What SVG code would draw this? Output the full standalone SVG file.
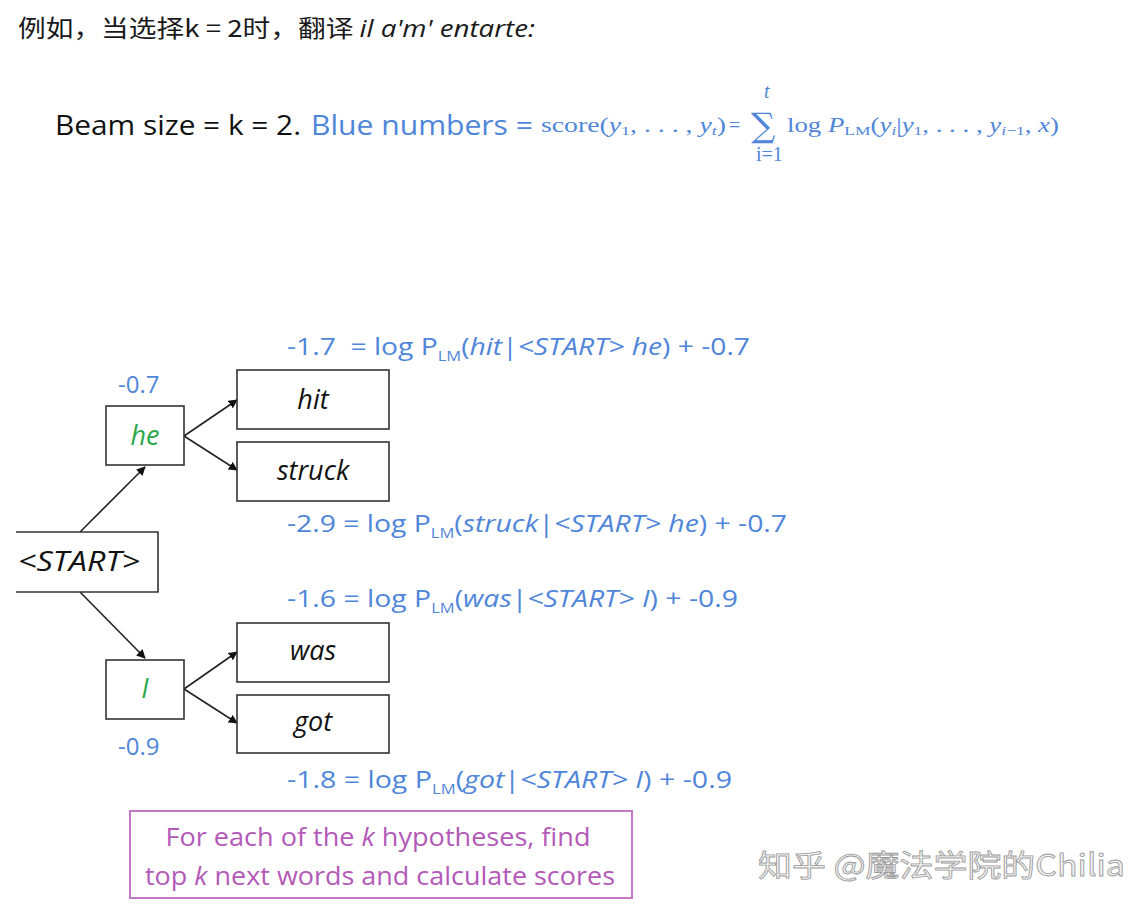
<svg xmlns="http://www.w3.org/2000/svg" width="1131" height="912" viewBox="0 0 1131 912">
<defs>
<marker id="ah" viewBox="0 0 10 10" refX="9" refY="5" markerWidth="9" markerHeight="9" markerUnits="userSpaceOnUse" orient="auto">
<path d="M0,0 L10,5 L0,10 z" fill="#111"/>
</marker>
<style>
.box{fill:#fff;stroke:#333;stroke-width:1.6}
.word{font-family:"Open Sans","Liberation Sans",sans-serif;font-style:italic;font-size:27px;fill:#111;text-anchor:middle}
.blue{font-family:"Open Sans","Liberation Sans",sans-serif;font-size:24px;fill:#4f86d9}
.it{font-style:italic}
.sub{font-size:14px}
.edge{stroke:#222;stroke-width:1.6;fill:none;marker-end:url(#ah)}
.math{font-family:"Liberation Serif","DejaVu Serif",serif;font-size:20px;fill:#4f86d9}
.purple{font-family:"Open Sans","Liberation Sans",sans-serif;font-size:25px;fill:#b35ab8;text-anchor:middle}
</style>
</defs>
<rect width="1131" height="912" fill="#fff"/>

<g id="header">
<text x="18" y="37" font-family="'Noto Sans CJK SC','Noto Sans',sans-serif" font-size="24" fill="#1a1a1a" textLength="517" lengthAdjust="spacingAndGlyphs">例如，当选择k = 2时，翻译 <tspan font-style="italic" font-family="'Open Sans','Noto Sans',sans-serif">il a'm' entarte:</tspan></text>
</g>

<g id="title">
<text x="55" y="135" font-family="'Open Sans','Liberation Sans',sans-serif" font-size="27" fill="#111" textLength="246" lengthAdjust="spacingAndGlyphs">Beam size = k = 2.</text>
<text x="311" y="135" font-family="'Open Sans','Liberation Sans',sans-serif" font-size="27" fill="#4f86d9" textLength="222" lengthAdjust="spacingAndGlyphs">Blue numbers =</text>
<text class="math" x="541" y="132" textLength="185" lengthAdjust="spacingAndGlyphs">score(<tspan class="it">y</tspan><tspan font-size="13" dy="3">1</tspan><tspan dy="-3">, . . . , </tspan><tspan class="it">y</tspan><tspan class="it" font-size="13" dy="3">t</tspan><tspan dy="-3">)</tspan></text>
<text class="math" x="729" y="132">=</text>
<text x="751" y="137" font-family="'DejaVu Serif',serif" font-size="34" fill="#4f86d9">∑</text>
<text class="math it" x="764" y="98" font-size="13">t</text>
<text class="math" x="756" y="161" font-size="13">i=1</text>
<text class="math" x="787" y="132" textLength="272" lengthAdjust="spacingAndGlyphs">log <tspan class="it">P</tspan><tspan font-size="13" dy="3">LM</tspan><tspan dy="-3">(</tspan><tspan class="it">y</tspan><tspan class="it" font-size="13" dy="3">i</tspan><tspan dy="-3">|</tspan><tspan class="it">y</tspan><tspan font-size="13" dy="3">1</tspan><tspan dy="-3">, . . . , </tspan><tspan class="it">y</tspan><tspan class="it" font-size="13" dy="3">i</tspan><tspan font-size="13">−1</tspan><tspan dy="-3">, </tspan><tspan class="it">x</tspan>)</text>
</g>

<g id="connectors">
<line class="edge" x1="80" y1="532" x2="145" y2="467"/>
<line class="edge" x1="80" y1="592" x2="145" y2="658"/>
<line class="edge" x1="184" y1="436" x2="237" y2="400"/>
<line class="edge" x1="184" y1="436" x2="237" y2="470"/>
<line class="edge" x1="184" y1="689" x2="237" y2="652"/>
<line class="edge" x1="184" y1="689" x2="237" y2="723"/>
</g>

<g id="node-start">
<rect x="16" y="532" width="142" height="60" fill="#fff"/>
<path d="M16,532 H158 V592 H16" fill="none" stroke="#333" stroke-width="1.6"/>
<text x="18" y="571" font-family="'Open Sans','Liberation Sans',sans-serif" font-style="italic" font-size="27" fill="#111" textLength="122" lengthAdjust="spacingAndGlyphs">&lt;START&gt;</text>
</g>

<g id="node-he">
<rect class="box" x="106" y="406" width="78" height="59"/>
<text class="word" x="145" y="445" style="fill:#2aa84a">he</text>
<text class="blue" x="118" y="393" font-size="25">-0.7</text>
</g>

<g id="node-hit">
<rect class="box" x="237" y="370" width="152" height="59"/>
<text class="word" x="313" y="409">hit</text>
</g>

<g id="node-struck">
<rect class="box" x="237" y="442" width="152" height="59"/>
<text class="word" x="313" y="480">struck</text>
</g>

<g id="node-I">
<rect class="box" x="106" y="660" width="78" height="59"/>
<text class="word" x="145" y="698" style="fill:#2aa84a">I</text>
<text class="blue" x="118" y="755" font-size="25">-0.9</text>
</g>

<g id="node-was">
<rect class="box" x="237" y="623" width="152" height="59"/>
<text class="word" x="313" y="660">was</text>
</g>

<g id="node-got">
<rect class="box" x="237" y="695" width="152" height="58"/>
<text class="word" x="313" y="731">got</text>
</g>

<g id="labels">
<text class="blue" x="287" y="355" textLength="463" lengthAdjust="spacingAndGlyphs">-1.7&#160; = log P<tspan class="sub" dy="6">LM</tspan><tspan dy="-6">(</tspan><tspan class="it">hit</tspan>|<tspan class="it">&lt;START&gt; he</tspan>) + -0.7</text>
<text class="blue" x="287" y="532" textLength="500" lengthAdjust="spacingAndGlyphs">-2.9 = log P<tspan class="sub" dy="6">LM</tspan><tspan dy="-6">(</tspan><tspan class="it">struck</tspan>|<tspan class="it">&lt;START&gt; he</tspan>) + -0.7</text>
<text class="blue" x="287" y="607" textLength="451" lengthAdjust="spacingAndGlyphs">-1.6 = log P<tspan class="sub" dy="6">LM</tspan><tspan dy="-6">(</tspan><tspan class="it">was</tspan>|<tspan class="it">&lt;START&gt; I</tspan>) + -0.9</text>
<text class="blue" x="287" y="788" textLength="445" lengthAdjust="spacingAndGlyphs">-1.8 = log P<tspan class="sub" dy="6">LM</tspan><tspan dy="-6">(</tspan><tspan class="it">got</tspan>|<tspan class="it">&lt;START&gt; I</tspan>) + -0.9</text>
</g>

<g id="note">
<rect x="130" y="811" width="502" height="87" fill="#fff" stroke="#c27ac8" stroke-width="2"/>
<text class="purple" x="378" y="846" textLength="425" lengthAdjust="spacingAndGlyphs">For each of the <tspan class="it">k</tspan> hypotheses, find</text>
<text class="purple" x="380" y="885" textLength="470" lengthAdjust="spacingAndGlyphs">top <tspan class="it">k</tspan> next words and calculate scores</text>
</g>

<g id="watermark">
<text x="758" y="876" font-family="'Noto Sans CJK SC','Noto Sans',sans-serif" font-size="30" fill="#f2f2f2" stroke="#9a9a9a" stroke-width="0.8" textLength="367" lengthAdjust="spacingAndGlyphs">知乎 @魔法学院的Chilia</text>
</g>
</svg>
